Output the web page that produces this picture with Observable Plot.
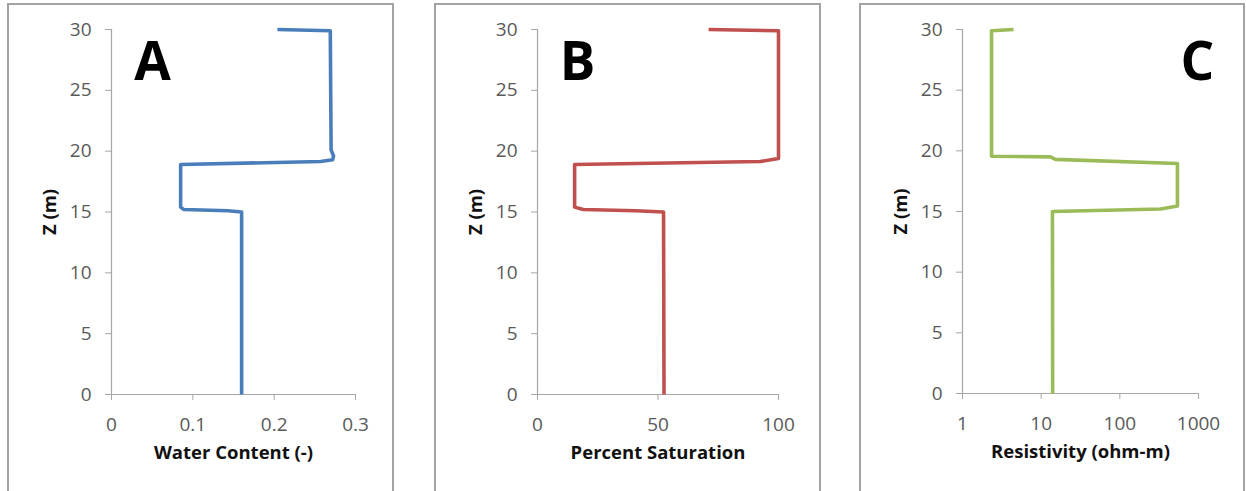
<!DOCTYPE html>
<html><head><meta charset="utf-8">
<script src="https://cdn.jsdelivr.net/npm/d3@7"></script>
<script src="https://cdn.jsdelivr.net/npm/@observablehq/plot@0.6"></script>
<style>
body{margin:0;background:#fff;}
#wrap{position:relative;width:1246px;height:491px;overflow:hidden;background:#fff;font-family:"Open Sans",sans-serif;}
.box{position:absolute;border:2px solid #a3a3a3;top:3px;height:600px;box-sizing:border-box;}
.panel{position:absolute;top:0;}
</style></head><body><div id="wrap"></div>
<script>
// ---- data ----
const zTicks = [0, 5, 10, 15, 20, 25, 30];

const zA  = [30, 29.9, 20.1, 19.6, 19.3, 19.15, 18.9, 15.4, 15.2, 15.1, 15.0, 0];
const wcA = [0.204, 0.269, 0.270, 0.273, 0.272, 0.257, 0.085, 0.085, 0.089, 0.143, 0.160, 0.160];
const xTicksA = [0, 0.1, 0.2, 0.3];
const xLabelsA = ["0", "0.1", "0.2", "0.3"];

const zB   = [30, 29.9, 19.4, 19.15, 18.9, 15.4, 15.2, 15.1, 15.0, 0];
const satB = [71, 100, 100, 92.5, 15.4, 15.4, 19, 40.7, 52.3, 52.5];
const xTicksB = [0, 50, 100];
const xLabelsB = ["0", "50", "100"];

const zC   = [30, 29.9, 19.55, 19.5, 19.3, 18.95, 15.45, 15.2, 15.0, 0];
const resC = [4.45, 2.34, 2.34, 13.1, 15.2, 540, 540, 330, 13.9, 14];
const xTicksC = [1, 10, 100, 1000];
const xLabelsC = ["1", "10", "100", "1000"];

const panelLetters = ["A", "B", "C"];
const xTitles = ["Water Content (-)", "Percent Saturation", "Resistivity (ohm-m)"];
const yTitle = "Z (m)";
const colors = ["#4a7ebb", "#c0504d", "#9bbb59"];

// ---- layout ----
const wrap = document.getElementById("wrap");
const boxes = [[7, 387], [434, 387], [859, 386]];
boxes.forEach(([l, w]) => {
  const b = document.createElement("div");
  b.className = "box"; b.style.left = l + "px"; b.style.width = w + "px";
  wrap.appendChild(b);
});

const FONT = "Open Sans";
const AX = "#a6a6a6", TL = "#595959";

function panel(cfg) {
  const data = cfg.z.map((z, i) => ({z, v: cfg.v[i]}));
  const chart = Plot.plot({
    width: cfg.width, height: 491,
    marginLeft: cfg.ml, marginRight: cfg.mr, marginTop: 29, marginBottom: cfg.mb,
    style: {background: "transparent", fontFamily: FONT, fontSize: "19px", overflow: "visible"},
    x: {type: cfg.xtype, domain: cfg.xdomain},
    y: {domain: [0, 30]},
    marks: [
      Plot.ruleY([0], {stroke: AX, strokeWidth: 1.2}),
      Plot.ruleX([cfg.xdomain[0]], {stroke: AX, strokeWidth: 1.2}),
      Plot.axisY({ticks: zTicks, tickSize: 6, tickPadding: 14, stroke: AX, fill: TL,
        fontSize: 19, label: null, tickFormat: d => String(d)}),
      Plot.axisX({ticks: cfg.xticks, tickSize: 6, tickPadding: 17, stroke: AX, fill: TL,
        fontSize: 19, label: null, tickFormat: (d) => cfg.xlabels[cfg.xticks.indexOf(d)]}),
      Plot.line(data, {x: "v", y: "z", stroke: cfg.color, strokeWidth: 3.6,
        strokeLinejoin: "round", strokeLinecap: "butt"}),
      Plot.text([cfg.letter], {text: d => d, frameAnchor: "top-left", dx: cfg.ldx, dy: 13,
        lineAnchor: "top", textAnchor: "middle", fontSize: 53, fontWeight: "bold", fill: "#000"}),
      Plot.text([yTitle], {text: d => d, frameAnchor: "left", dx: -61, rotate: -90,
        textAnchor: "middle", lineAnchor: "middle", fontSize: 18.5, fontWeight: "bold", fill: "#111"}),
      Plot.text([cfg.xtitle], {text: d => d, frameAnchor: "bottom", dy: 59,
        textAnchor: "middle", lineAnchor: "middle", fontSize: 18.5, fontWeight: "bold", fill: "#111"})
    ]
  });
  chart.classList.add("panel");
  chart.style.left = cfg.left + "px";
  wrap.appendChild(chart);
}

panel({left: 0, width: 400, ml: 111, mr: 45, mb: 97, z: zA, v: wcA, xtype: "linear",
  xdomain: [0, 0.3], xticks: xTicksA, xlabels: xLabelsA, color: colors[0],
  letter: panelLetters[0], ldx: 41, xtitle: xTitles[0]});
panel({left: 420, width: 400, ml: 117, mr: 42, mb: 97, z: zB, v: satB, xtype: "linear",
  xdomain: [0, 100], xticks: xTicksB, xlabels: xLabelsB, color: colors[1],
  letter: panelLetters[1], ldx: 40, xtitle: xTitles[1]});
panel({left: 840, width: 406, ml: 122, mr: 48, mb: 98, z: zC, v: resC, xtype: "log",
  xdomain: [1, 1000], xticks: xTicksC, xlabels: xLabelsC, color: colors[2],
  letter: panelLetters[2], ldx: 235, xtitle: xTitles[2]});
</script></body></html>
